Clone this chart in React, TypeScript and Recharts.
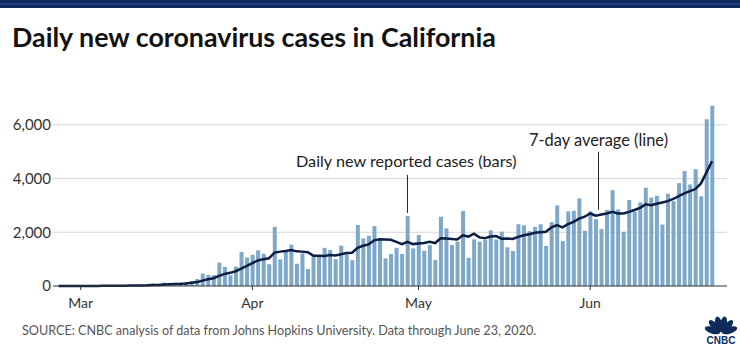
import React from 'react';
import { ComposedChart, Bar, Line, XAxis, YAxis, CartesianGrid, ReferenceLine } from 'recharts';

// Day index 0 = March 1, 2020. Series start on Feb 26 (index -4).
const FIRST_DAY = -4;

const dailyCases = [
  0, 1, 0, 2,
  2, 3, 2, 10, 11, 15, 8, 26, 19, 24, 21, 45, 45, 90, 45,
  125, 100, 90, 110, 150, 180, 260, 460, 410, 410, 870, 710, 400, 720, 1270, 1060,
  1160, 1330, 1200, 810, 2200, 990, 1300, 1540, 830, 1215, 630, 1090, 1130, 1420, 1340,
  1000, 1500, 1180, 960, 2270, 1770, 1870, 2230, 1710, 1030, 1190, 1420, 1190, 2610, 1400,
  1900, 1310, 1525, 967, 2580, 2145, 1525, 1650, 2790, 1050, 1736, 1650, 1710, 2070, 1736,
  2020, 1440, 1300, 2300, 2260, 2045, 2200, 2300, 1490, 2380, 3000, 1675, 2780, 2800, 3260,
  2055, 2780, 2490, 2120, 2830, 3570, 2850, 2020, 3200, 2765, 3110, 3660, 3290, 3360, 2290,
  3435, 3160, 3830, 4280, 3780, 4350, 3340, 6210, 6710,
];

const sevenDayAvg = [
  0, 0, 1, 1,
  1, 2, 2, 3, 5, 6, 7, 10, 12, 15, 17, 20, 26, 38, 41,
  55, 63, 70, 80, 95, 120, 145, 200, 250, 290, 380, 450, 490, 550, 650, 750,
  850, 950, 1000, 1030, 1240, 1280, 1300, 1340, 1290, 1280, 1260, 1130, 1130, 1120, 1150,
  1140, 1180, 1230, 1240, 1420, 1500, 1550, 1700, 1740, 1730, 1720, 1640, 1560, 1640, 1560,
  1580, 1600, 1650, 1600, 1780, 1770, 1750, 1730, 1890, 1840, 1950, 1810, 1780, 1840, 1860,
  1760, 1770, 1750, 1830, 1890, 1930, 1980, 2000, 2020, 2180, 2270, 2180, 2300, 2390, 2510,
  2580, 2700, 2620, 2660, 2700, 2760, 2700, 2700, 2760, 2830, 2910, 3040, 3010, 3060, 3110,
  3160, 3240, 3350, 3450, 3530, 3610, 3820, 4230, 4650,
];

const monthTicks = [0, 31, 61, 92];
const monthLabels = ['Mar', 'Apr', 'May', 'Jun'];
const yTicks = [0, 2000, 4000, 6000];
const Y_MAX = 7000;

const barsNote = { day: 59, from: 2720, to: 4140, text: 'Daily new reported cases (bars)' };
const lineNote = { day: 93.5, from: 2840, to: 5000, text: '7-day average (line)' };

const data = dailyCases.map((c, i) => ({ day: FIRST_DAY + i, cases: c, avg: sevenDayAvg[i] }));

const FONT = 'Lato, "Open Sans", sans-serif';

const gridRows = ({ offset }: any) =>
  yTicks
    .filter((t) => t > 0)
    .map((t) => offset.top + offset.height * (1 - t / Y_MAX));

export default function App() {
  return (
    <div style={{ position: 'absolute', left: 0, top: 0, width: 740, height: 351, background: '#fff', overflow: 'hidden' }}>
      <ComposedChart width={740} height={351} data={data} margin={{ top: 98, right: 13, bottom: 35, left: 0 }}>
        <CartesianGrid vertical={false} stroke="#d6d6d6" strokeWidth={1} horizontalCoordinatesGenerator={gridRows} />
        <XAxis
          dataKey="day"
          type="number"
          domain={[-5, 116.7]}
          ticks={monthTicks}
          tickFormatter={(v: number) => monthLabels[monthTicks.indexOf(v)]}
          axisLine={{ stroke: '#333', strokeWidth: 1 }}
          tickLine={{ stroke: '#333' }}
          tickSize={4}
          tickMargin={8}
          height={30}
          tick={{ fill: '#333', fontSize: 14, fontFamily: FONT }}
          interval={0}
        />
        <YAxis
          domain={[0, Y_MAX]}
          ticks={yTicks}
          tickFormatter={(v: number) => v.toLocaleString('en-US')}
          width={53}
          axisLine={false}
          tickLine={false}
          tickSize={0}
          tickMargin={2}
          tick={{ fill: '#333', fontSize: 15, fontFamily: FONT }}
          interval={0}
        />
        <Bar dataKey="cases" fill="#7ea8c9" barSize={4} isAnimationActive={false} />
        <Line dataKey="avg" stroke="#0d1d44" strokeWidth={2.5} dot={false} type="linear" isAnimationActive={false} />
        <ReferenceLine segment={[{ x: barsNote.day, y: barsNote.from }, { x: barsNote.day, y: barsNote.to }]} stroke="#222" strokeWidth={1} />
        <ReferenceLine segment={[{ x: lineNote.day, y: lineNote.from }, { x: lineNote.day, y: lineNote.to }]} stroke="#222" strokeWidth={1} />
      </ComposedChart>
      <svg width={740} height={351} style={{ position: 'absolute', left: 0, top: 0, pointerEvents: 'none' }}>
        <rect x={0} y={0} width={740} height={8} fill="#0f2b5b" />
        <rect x={0} y={3} width={740} height={2} fill="#1d3f7a" />
        <text x={12} y={47} fontFamily={FONT} fontWeight={700} fontSize={26.8} fill="#111">
          Daily new coronavirus cases in California
        </text>
        <text x={296} y={167} fontFamily={FONT} fontSize={16.2} fill="#222">{barsNote.text}</text>
        <text x={529} y={146} fontFamily={FONT} fontSize={16.4} fill="#222">{lineNote.text}</text>
        <text x={22} y={335} fontFamily={FONT} fontSize={12.6} fill="#555">
          SOURCE: CNBC analysis of data from Johns Hopkins University. Data through June 23, 2020.
        </text>
        <g transform="translate(721,333)">
          {[-72, -43, -14, 14, 43, 72].map((a) => (
            <ellipse key={a} cx={0} cy={-9} rx={3.4} ry={8} fill="#0f2b5b" transform={`rotate(${a} 0 0)`} />
          ))}
          <text x={0} y={11} textAnchor="middle" fontFamily="Arial, sans-serif" fontWeight={700} fontSize={10} fill="#0f2b5b">CNBC</text>
        </g>
      </svg>
    </div>
  );
}
